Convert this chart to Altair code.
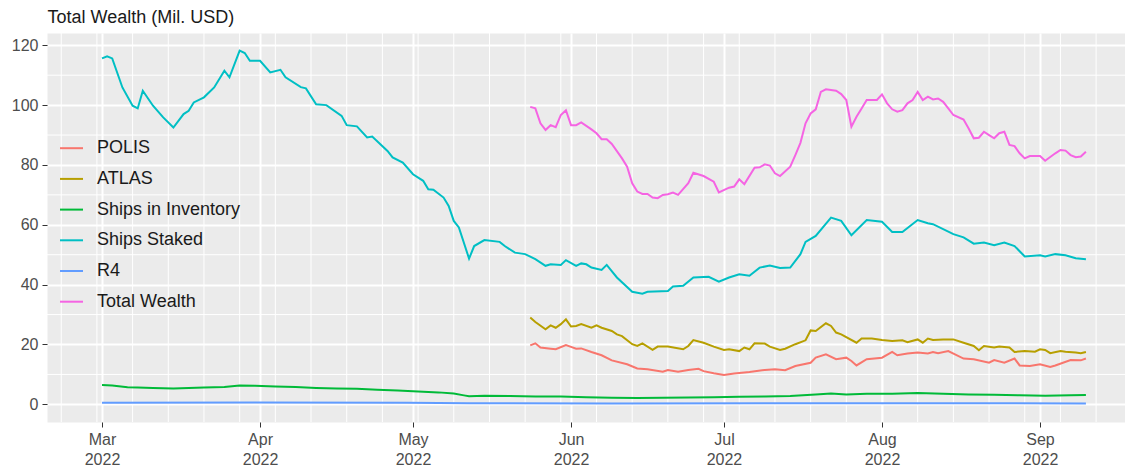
import altair as alt
import pandas as pd

START = pd.Timestamp("2022-03-01")

series_names = ["POLIS", "ATLAS", "Ships in Inventory", "Ships Staked", "R4", "Total Wealth"]
series_colors = ["#F8766D", "#B79F00", "#00BA38", "#00BFC4", "#619CFF", "#F564E3"]

# day offsets from 2022-03-01 and values (Mil. USD)
staked_day = [0, 1, 2, 4, 6, 7, 8, 10, 12, 14, 16, 17, 18, 20, 22, 24, 25, 27, 28, 29, 31, 33, 35, 36,
              39, 40, 42, 44, 47, 48, 50, 52, 53, 56, 57, 59, 61, 63, 64, 65, 67, 68, 69, 70, 72, 73,
              75, 78, 79, 81, 83, 85, 87, 88, 90, 91, 93, 94, 95, 96, 98, 99, 101, 104, 106, 107, 111,
              112, 114, 116, 119, 121, 123, 125, 127, 129, 131, 133, 135, 137, 138, 140, 143, 145, 147,
              150, 153, 155, 157, 160, 162, 163, 167, 169, 171, 173, 175, 177, 179, 181, 184, 185, 187,
              189, 191, 193]
staked_val = [115.6, 116.3, 115.6, 105.9, 99.8, 98.9, 104.8, 99.8, 95.9, 92.5, 97.0, 98.1, 100.9, 102.6,
              105.9, 111.5, 109.3, 118.2, 117.4, 114.8, 114.8, 110.9, 111.8, 109.3, 106.0, 105.6, 100.3,
              100.0, 96.4, 93.3, 92.9, 89.2, 89.5, 84.7, 82.5, 80.8, 76.9, 74.7, 71.9, 71.7, 69.1, 66.3,
              61.3, 59.1, 48.7, 52.9, 54.9, 54.3, 52.9, 50.7, 50.2, 48.5, 46.3, 46.8, 46.6, 48.2, 46.3,
              47.1, 46.8, 45.7, 44.9, 46.6, 42.4, 37.6, 37.0, 37.6, 37.9, 39.4, 39.6, 42.4, 42.6, 41.0,
              42.4, 43.5, 43.0, 45.7, 46.4, 45.6, 45.7, 50.2, 54.3, 56.3, 62.4, 61.3, 56.5, 61.6, 61.0,
              57.6, 57.6, 61.6, 60.5, 60.2, 56.9, 55.8, 53.7, 54.1, 53.2, 54.1, 52.9, 49.4, 49.8, 49.4,
              50.2, 49.8, 48.8, 48.5]

total_day = [84, 85, 86, 87, 88, 89, 90, 91, 92, 93, 94, 96, 97, 98, 99, 100, 102, 103, 104, 105, 106,
             107, 108, 109, 110, 111, 112, 113, 115, 116, 118, 120, 121, 123, 124, 125, 126, 128, 129,
             130, 131, 132, 133, 135, 136, 137, 138, 139, 140, 141, 142, 144, 145, 146, 147, 148, 149,
             150, 152, 153, 154, 155, 156, 157, 158, 159, 160, 161, 162, 163, 164, 165, 166, 167, 169,
             170, 171, 172, 173, 174, 175, 176, 177, 178, 179, 180, 181, 182, 184, 185, 187, 188, 189,
             190, 191, 192, 193]
total_val = [99.4, 98.9, 93.9, 91.7, 93.3, 92.6, 96.7, 98.3, 93.3, 93.3, 94.2, 91.9, 90.6, 88.6, 88.6,
             87.0, 82.2, 79.4, 73.9, 71.1, 70.3, 70.3, 69.1, 68.9, 70.0, 70.2, 70.8, 70.0, 73.9, 77.4,
             76.3, 74.4, 70.8, 72.4, 72.8, 75.2, 73.6, 79.1, 79.2, 80.2, 79.8, 77.2, 76.3, 79.4, 83.3,
             87.4, 93.9, 97.2, 98.6, 104.4, 105.3, 104.8, 103.7, 101.7, 92.8, 96.1, 98.9, 101.7, 101.7,
             103.6, 100.6, 98.6, 97.8, 98.3, 100.6, 101.7, 104.4, 101.7, 102.8, 101.9, 102.2, 101.1,
             98.9, 96.7, 95.2, 92.2, 88.9, 89.1, 91.1, 90.0, 88.9, 90.6, 91.1, 86.7, 86.3, 83.9, 82.2,
             83.0, 83.0, 81.4, 83.9, 85.0, 84.8, 83.3, 82.6, 82.8, 84.4]

atlas_day = [84, 85, 87, 88, 89, 90, 91, 92, 93, 94, 96, 97, 98, 100, 101, 102, 104, 105, 106, 108, 109,
             111, 114, 115, 116, 118, 120, 122, 123, 125, 126, 127, 128, 130, 131, 133, 134, 136, 138,
             139, 140, 142, 143, 144, 145, 148, 149, 151, 153, 155, 157, 158, 160, 161, 162, 163, 165,
             167, 169, 171, 172, 173, 175, 176, 178, 179, 181, 183, 184, 185, 186, 188, 189, 191, 192,
             193]
atlas_val = [29.0, 27.5, 25.1, 26.4, 25.6, 26.8, 28.4, 26.0, 26.2, 26.8, 25.6, 26.4, 25.6, 24.5, 23.4,
             22.8, 20.1, 19.5, 20.4, 18.2, 19.3, 19.3, 18.4, 19.5, 21.5, 20.6, 19.3, 18.2, 18.4, 17.8,
             19.0, 18.4, 20.4, 20.3, 19.3, 18.2, 18.6, 20.1, 21.4, 24.7, 24.5, 27.1, 26.2, 24.0, 23.4,
             20.6, 22.0, 22.0, 21.5, 21.2, 21.4, 20.8, 21.7, 20.6, 22.0, 21.5, 21.7, 21.7, 20.6, 19.5,
             18.1, 19.5, 19.0, 19.3, 19.0, 17.5, 17.8, 17.6, 18.4, 18.2, 17.1, 17.8, 17.6, 17.3, 17.1,
             17.5]

polis_day = [84, 85, 86, 88, 89, 91, 92, 93, 94, 96, 98, 100, 103, 105, 107, 110, 111, 113, 115, 117,
             118, 120, 122, 124, 127, 130, 132, 134, 136, 139, 140, 142, 144, 146, 147, 148, 150, 153,
             155, 156, 158, 160, 162, 163, 164, 166, 169, 171, 174, 175, 177, 179, 180, 182, 184, 186,
             187, 190, 192, 193]
polis_val = [19.7, 20.4, 19.0, 18.6, 18.4, 19.8, 19.2, 18.6, 18.7, 17.5, 16.4, 14.7, 13.4, 12.0, 11.7,
             10.9, 11.5, 10.9, 11.5, 11.9, 11.1, 10.4, 9.8, 10.3, 10.8, 11.5, 11.7, 11.4, 12.8, 13.9,
             15.6, 16.7, 15.1, 15.6, 14.5, 13.0, 15.1, 15.6, 17.5, 16.4, 17.0, 17.3, 17.0, 17.5, 17.1,
             17.8, 15.3, 15.1, 13.9, 14.8, 13.9, 15.3, 13.0, 12.8, 13.4, 12.5, 13.0, 14.8, 14.7, 15.3]

inventory_day = [0, 2, 5, 7, 10, 14, 17, 20, 24, 27, 30, 34, 38, 42, 46, 50, 54, 58, 62, 66, 69, 71,
                 72, 75, 80, 85, 90, 95, 100, 105, 110, 115, 120, 125, 130, 135, 140, 143, 146, 150,
                 155, 160, 165, 170, 175, 180, 185, 190, 193]
inventory_val = [6.5, 6.3, 5.7, 5.6, 5.5, 5.3, 5.5, 5.6, 5.8, 6.3, 6.2, 6.0, 5.8, 5.5, 5.3, 5.2, 4.9,
                 4.6, 4.3, 4.0, 3.6, 3.0, 2.7, 2.9, 2.8, 2.6, 2.6, 2.4, 2.2, 2.1, 2.2, 2.3, 2.4, 2.5,
                 2.6, 2.8, 3.3, 3.6, 3.3, 3.5, 3.5, 3.8, 3.5, 3.3, 3.2, 3.0, 2.9, 3.0, 3.1]

r4_day = [0, 30, 60, 72, 100, 140, 170, 193]
r4_val = [0.5, 0.6, 0.5, 0.4, 0.3, 0.35, 0.35, 0.3]

y_ticks = [0, 20, 40, 60, 80, 100, 120]
y_minor = [10, 30, 50, 70, 90, 110]
month_ticks = [3, 4, 5, 6, 7, 8, 9]

series_data = {
    "POLIS": (polis_day, polis_val),
    "ATLAS": (atlas_day, atlas_val),
    "Ships in Inventory": (inventory_day, inventory_val),
    "Ships Staked": (staked_day, staked_val),
    "R4": (r4_day, r4_val),
    "Total Wealth": (total_day, total_val),
}

rows = []
for name, (days, vals) in series_data.items():
    for d, v in zip(days, vals):
        rows.append({"date": (START + pd.Timedelta(days=d)).strftime("%Y-%m-%d"),
                     "value": v, "series": name})
df = pd.DataFrame(rows)

week_lines = pd.DataFrame({"date": [d.strftime("%Y-%m-%d") for d in
                                    pd.date_range("2022-02-21", "2022-09-12", freq="W-MON")]})
hminor = pd.DataFrame({"v": y_minor})

FONT = "Liberation Sans"

x_scale = alt.Scale(type="utc", domain=[alt.DateTime(year=2022, month=2, date=18, hours=5, utc=True),
                                        alt.DateTime(year=2022, month=9, date=17, hours=16, utc=True)])
y_scale = alt.Scale(domain=[-5.9, 124.1], nice=False, zero=False)

x_axis = alt.Axis(
    values=[alt.DateTime(year=2022, month=m, date=1, utc=True) for m in month_ticks],
    labelExpr="[utcFormat(datum.value, '%b'), utcFormat(datum.value, '%Y')]",
    title=None, grid=True, gridColor="white", gridWidth=2, domain=False,
    tickColor="#333333", tickSize=5, tickWidth=1, labelPadding=4,
    labelFont=FONT, labelFontSize=16, labelColor="#4D4D4D", labelLineHeight=20,
)
y_axis = alt.Axis(
    values=y_ticks, title="Total Wealth (Mil. USD)", titleAngle=0, titleAlign="left",
    titleBaseline="alphabetic", titleX=0, titleY=-11, titleFont=FONT, titleFontSize=18,
    titleFontWeight="normal", titleColor="#1A1A1A",
    grid=True, gridColor="white", gridWidth=2, domain=False,
    tickColor="#333333", tickSize=5, tickWidth=1, labelPadding=4,
    labelFont=FONT, labelFontSize=16, labelColor="#4D4D4D",
)

vminor = alt.Chart(week_lines).mark_rule(color="white", strokeWidth=1).encode(
    x=alt.X("date:T", scale=x_scale, axis=x_axis)
)
hminor_layer = alt.Chart(hminor).mark_rule(color="white", strokeWidth=1).encode(
    y=alt.Y("v:Q", scale=y_scale, axis=y_axis)
)
lines = alt.Chart(df).mark_line(strokeWidth=2).encode(
    x=alt.X("date:T", scale=x_scale, axis=x_axis),
    y=alt.Y("value:Q", scale=y_scale, axis=y_axis),
    color=alt.Color("series:N", scale=alt.Scale(domain=series_names, range=series_colors),
                    sort=series_names,
                    legend=alt.Legend(title=None, orient="none", legendX=12, legendY=102.7,
                                      symbolType="stroke", symbolSize=529, symbolStrokeWidth=2,
                                      labelFont=FONT, labelFontSize=18, labelColor="#1A1A1A",
                                      labelOffset=13, rowPadding=8.7, padding=0)),
    detail="series:N",
)

chart = alt.layer(vminor, hminor_layer, lines).properties(
    width=1078, height=389,
    padding={"left": 39, "top": 25, "right": 0, "bottom": 44},
    autosize=alt.AutoSizeParams(type="none"),
).configure_view(fill="#EBEBEB", stroke="transparent")

chart.save("out.html", embed_options={"renderer": "svg", "actions": False})
